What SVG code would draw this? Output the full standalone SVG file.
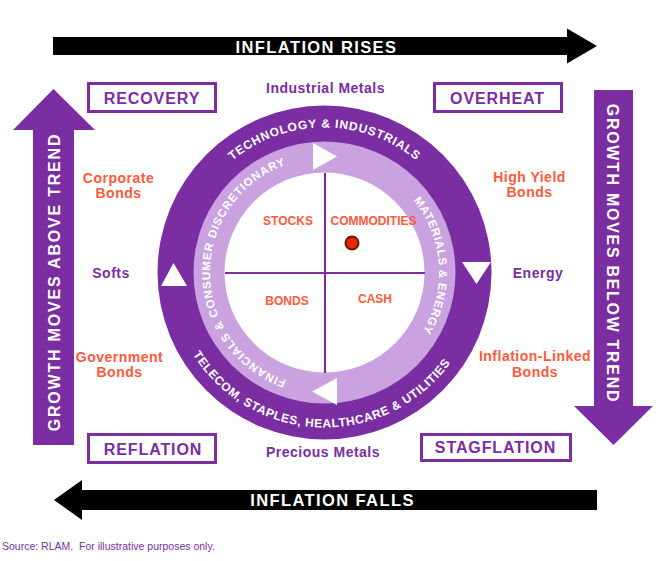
<svg xmlns="http://www.w3.org/2000/svg" width="659" height="561" viewBox="0 0 659 561">
<style>
  .b{font-family:"Liberation Sans",Arial,sans-serif;font-weight:bold;}
  .wt{fill:#ffffff;}
  .pt{fill:#7a2ea2;}
  .ot{fill:#ff5a3c;}
  .box{fill:#ffffff;stroke:#7a2ea2;stroke-width:3;}
  .lbl{font-size:14px;letter-spacing:0.5px;text-anchor:middle;}
  .ph{font-size:16px;letter-spacing:0.9px;text-anchor:middle;}
  .q{font-size:12px;text-anchor:middle;}
  .ring{font-size:11.5px;}
  .tri{fill:#ffffff;}
</style>
<defs>
  <path id="arcTop" d="M 179.5,272.5 A 145,145 0 0 1 469.5,272.5"/>
  <path id="arcBot" d="M 169.5,272.5 A 155,155 0 0 0 479.5,272.5"/>
  <path id="arcRight" d="M 336.47,158.63 A 114.5,114.5 0 0 1 352.2,383.6"/>
  <path id="arcLeft" d="M 304.62,385.26 A 114.5,114.5 0 0 1 304.62,159.74"/>
</defs>
<rect width="659" height="561" fill="#ffffff"/>

<g id="connectors">
  <g id="arrow-inflation-rises">
    <polygon points="53,37 567,37 567,28.5 597,46 567,63.5 567,55 53,55" fill="#000000"/>
    <text class="b wt" x="316.5" y="52.5" font-size="16.5" letter-spacing="1.4" text-anchor="middle">INFLATION RISES</text>
  </g>
  <g id="arrow-inflation-falls">
    <polygon points="597,490 82,490 82,480 54,500 82,520 82,510 597,510" fill="#000000"/>
    <text class="b wt" x="332.5" y="506" font-size="16.5" letter-spacing="1.4" text-anchor="middle">INFLATION FALLS</text>
  </g>
  <g id="arrow-growth-above">
    <polygon points="33,445 33,130 13,130 53.5,89 95,130 74,130 74,445" fill="#7a2ea2"/>
    <text class="b wt" transform="translate(60,282) rotate(-90)" font-size="16" letter-spacing="1.8" text-anchor="middle">GROWTH MOVES ABOVE TREND</text>
  </g>
  <g id="arrow-growth-below">
    <polygon points="594,90 633,90 633,406 653,406 613.5,445 574,406 594,406" fill="#7a2ea2"/>
    <text class="b wt" transform="translate(607,253.5) rotate(90)" font-size="16" letter-spacing="1.7" text-anchor="middle">GROWTH MOVES BELOW TREND</text>
  </g>
</g>

<g id="clock">
  <circle cx="324.5" cy="272.5" r="167" fill="#7a2ea2"/>
  <circle cx="324.5" cy="272.5" r="131" fill="#c9a2df"/>
  <circle cx="324.5" cy="272.5" r="100" fill="#ffffff"/>
  <line x1="325" y1="173" x2="325" y2="373" stroke="#7a2ea2" stroke-width="2"/>
  <line x1="225" y1="273" x2="425" y2="273" stroke="#7a2ea2" stroke-width="2"/>
  <text class="b wt" font-size="12" letter-spacing="0.8"><textPath href="#arcTop" startOffset="50%" text-anchor="middle">TECHNOLOGY &amp; INDUSTRIALS</textPath></text>
  <text class="b wt" font-size="12" letter-spacing="0.6"><textPath href="#arcBot" startOffset="49%" text-anchor="middle">TELECOM, STAPLES, HEALTHCARE &amp; UTILITIES</textPath></text>
  <text class="b wt ring" letter-spacing="0.6"><textPath href="#arcRight" startOffset="50%" text-anchor="middle">MATERIALS &amp; ENERGY</textPath></text>
  <text class="b wt ring" letter-spacing="0.9"><textPath href="#arcLeft" startOffset="50%" text-anchor="middle">FINANCIALS &amp; CONSUMER DISCRETIONARY</textPath></text>
  <polygon class="tri" points="313,143 313,170 337,156.5"/>
  <polygon class="tri" points="462,262 491,262 476.5,284"/>
  <polygon class="tri" points="337,378 337,405 312,391.5"/>
  <polygon class="tri" points="173.5,263 161,286 187,286"/>
  <text class="b ot q" x="288" y="225">STOCKS</text>
  <text class="b ot q" x="373.5" y="225">COMMODITIES</text>
  <text class="b ot q" x="287" y="305">BONDS</text>
  <text class="b ot q" x="375" y="303">CASH</text>
  <circle cx="352" cy="243" r="6.5" fill="#e52b00" stroke="#6b1300" stroke-width="2"/>
</g>

<g id="node-recovery">
  <rect class="box" x="88.5" y="83.5" width="127" height="28"/>
  <text class="b pt ph" x="152" y="103.5">RECOVERY</text>
</g>
<g id="node-overheat">
  <rect class="box" x="434.5" y="83.5" width="127" height="28"/>
  <text class="b pt ph" x="497.5" y="103.5">OVERHEAT</text>
</g>
<g id="node-reflation">
  <rect class="box" x="88.5" y="434.5" width="127" height="28"/>
  <text class="b pt ph" x="153" y="454.5">REFLATION</text>
</g>
<g id="node-stagflation">
  <rect class="box" x="421.5" y="434.5" width="149" height="26"/>
  <text class="b pt ph" x="495.5" y="452.5">STAGFLATION</text>
</g>

<g id="labels">
  <text class="b pt lbl" x="325.5" y="93">Industrial Metals</text>
  <text class="b pt lbl" x="323" y="457">Precious Metals</text>
  <text class="b ot lbl" x="118.5" y="183">Corporate</text>
  <text class="b ot lbl" x="118.5" y="198">Bonds</text>
  <text class="b pt lbl" x="111" y="278">Softs</text>
  <text class="b ot lbl" x="119.5" y="362">Government</text>
  <text class="b ot lbl" x="119.5" y="377">Bonds</text>
  <text class="b ot lbl" x="529.5" y="182">High Yield</text>
  <text class="b ot lbl" x="529.5" y="197">Bonds</text>
  <text class="b pt lbl" x="538" y="278">Energy</text>
  <text class="b ot lbl" x="535" y="361">Inflation-Linked</text>
  <text class="b ot lbl" x="535" y="377">Bonds</text>
</g>

<text x="2" y="550" font-family="'Liberation Sans',Arial,sans-serif" font-size="10.5" fill="#7a2ea2" style="white-space:pre">Source: RLAM.  For illustrative purposes only.</text>
</svg>
